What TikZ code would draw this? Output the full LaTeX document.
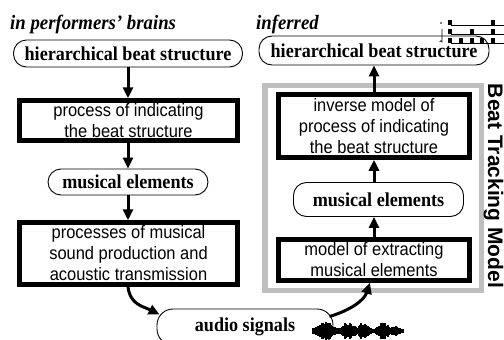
\documentclass[tikz,border=0pt]{standalone}
\usepackage{fontspec}
\setmainfont[FakeStretch=0.92]{Liberation Serif}
\setsansfont[FakeStretch=0.915]{Liberation Sans}
\newfontfamily\labelsans{Liberation Sans}
\usetikzlibrary{arrows.meta}

\tikzset{
  oval/.style={draw,line width=0.9pt,rounded corners=13pt,inner sep=0pt,
    font=\fontsize{19.7}{21}\selectfont\bfseries},
  proc/.style={draw,line width=4.5pt,inner sep=0pt,align=center,
    font=\fontsize{18}{21}\selectfont\sffamily},
  flow/.style={line width=3pt,-{Triangle[length=11pt,width=10pt]}},
  tag/.style={anchor=base west,inner sep=0pt,
    font=\fontsize{20.4}{22}\selectfont\bfseries\itshape}
}

\begin{document}
\begin{tikzpicture}[x=1pt,y=-1pt]
\useasboundingbox (0,0) rectangle (504,340);

% left column: performers
\node[tag] (brains) at (10,30) {in performers' brains};
\node[oval,minimum width=229,minimum height=27] (hierL) at (128,53.5) {hierarchical beat structure};
\node[proc,minimum width=218,minimum height=40] (indicL) at (128.5,120.5) {process of indicating\\the beat structure};
\node[oval,minimum width=160,minimum height=26] (musL) at (128,182) {musical elements};
\node[proc,minimum width=218,minimum height=62] (prodL) at (128.5,253.5) {processes of musical\\sound production and\\acoustic transmission};

% right column: inferred
\node[tag] (inferred) at (256,30) {inferred};
\node[oval,minimum width=230,minimum height=29] (hierR) at (374,50.5) {hierarchical beat structure};
\draw[gray!50,line width=5.5pt] (265,85.3) rectangle (481.7,290.5);
\node[proc,minimum width=191,minimum height=63] (inverseR) at (374,126) {inverse model of\\process of indicating\\the beat structure};
\node[oval,minimum width=170,minimum height=34] (musR) at (378.5,199.5) {musical elements};
\node[proc,minimum width=191,minimum height=41] (extractR) at (374,260) {model of extracting\\musical elements};
\node[rotate=-90,anchor=base,inner sep=0pt,font=\fontsize{21}{24}\selectfont\labelsans\bfseries] (btm) at (488,186) {Beat Tracking Model};

% bottom
\node[oval,minimum width=176,minimum height=36,rounded corners=16pt] (audio) at (245,327) {audio signals};

\draw[flow] (hierL.south) -- (hierL.south |- indicL.north);
\draw[flow] (indicL.south -| musL.north) -- (musL.north);
\draw[flow] (musL.south) -- (musL.south |- prodL.north);
\draw[flow] ([xshift=-0.5pt]prodL.south) .. controls +(2,18) and +(-16,-8) .. ([shift={(3,6)}]audio.north west);
\draw[flow] ([shift={(-4,8)}]audio.north east) .. controls +(20,-6) and +(-6,18) .. ([xshift=-4pt]extractR.south);
\draw[flow] (extractR.north) -- (extractR.north |- musR.south);
\draw[flow] (musR.north -| inverseR.south) -- (inverseR.south);
\draw[flow] (inverseR.north) -- (inverseR.north |- hierR.south);

% waveform
\pgfmathsetseed{11}
\foreach \i in {0,...,90}{
  \pgfmathsetmacro\env{max(exp(-((\i-12)/9)^2),exp(-((\i-36)/8)^2),0.9*exp(-((\i-50)/6)^2),exp(-((\i-70)/6)^2),0.5*exp(-((\i-82)/5)^2))}
  \pgfmathsetmacro\amp{1.6+8.5*\env*(0.45+0.55*rnd)}
  \draw[line width=1.1pt] (313+\i,331-\amp) -- (313+\i,331+\amp);
}

% beat icon
\foreach \yy in {25,34,43}
  \draw[line width=0.8pt] (451,\yy) -- (504,\yy);
\foreach \xx in {450,493}
  \fill (\xx-2,25) rectangle (\xx+2,20);
\foreach \xx in {450,472,493}
  \fill (\xx-2,34) rectangle (\xx+2,29);
\foreach \xx in {450,461,472,482,493}
  \fill (\xx-2,43) rectangle (\xx+2,38);
\fill (441,23) circle (0.8);
\draw[line width=0.6pt] (442,29) -- (442,42) arc (0:-180:1.2);
\end{tikzpicture}
\end{document}
